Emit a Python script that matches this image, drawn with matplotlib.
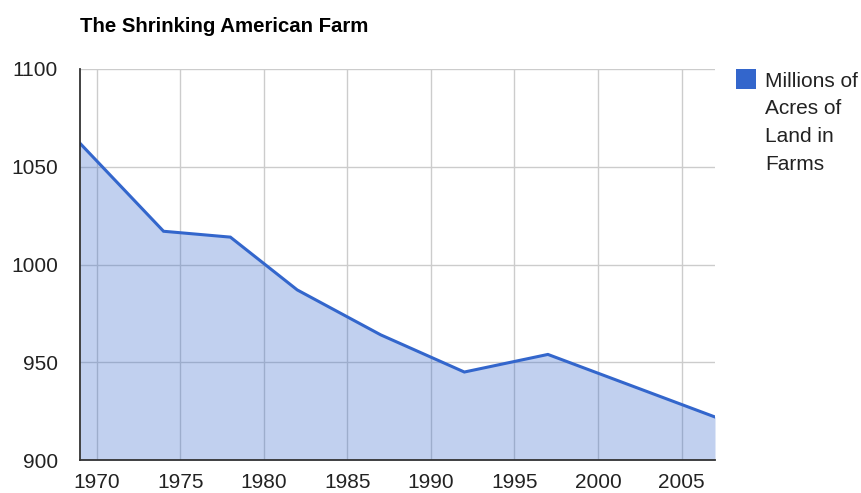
import matplotlib
matplotlib.use('Agg')
import matplotlib.pyplot as plt
import matplotlib.patches as patches

plt.rcParams['font.family'] = ['Liberation Sans', 'DejaVu Sans']

years = [1969, 1974, 1978, 1982, 1987, 1992, 1997, 2002, 2007]
acres = [1062, 1017, 1014, 987, 964, 945, 954, 938, 922]
series_name = "Millions of\nAcres of\nLand in\nFarms"
xticks = [1970, 1975, 1980, 1985, 1990, 1995, 2000, 2005]
yticks = [900, 950, 1000, 1050, 1100]

W, H = 862, 493
fig = plt.figure(figsize=(W/100, H/100), dpi=100)
ax = fig.add_axes([80/W, 33/H, 635/W, 391/H])

ax.fill_between(years, acres, 900, color='#3366cc', alpha=0.3, lw=0, zorder=2)
ax.plot(years, acres, color='#3366cc', lw=2.2, zorder=3, solid_joinstyle='miter')

ax.set_xlim(1969, 2007)
ax.set_ylim(900, 1100)
ax.set_xticks(xticks)
ax.set_yticks(yticks)
ax.grid(True, color='#cccccc', lw=1, zorder=1)
ax.set_axisbelow(True)
for s in ['top', 'right']:
    ax.spines[s].set_visible(False)
for s in ['left', 'bottom']:
    ax.spines[s].set_color('#333333')
    ax.spines[s].set_linewidth(1.3)
    ax.spines[s].set_zorder(4)
ax.tick_params(axis='both', length=0, labelsize=15, labelcolor='#222222')
ax.tick_params(axis='y', pad=16)
ax.tick_params(axis='x', pad=9)

fig.text(80/W, 1 - 27/H, "The Shrinking American Farm", fontsize=14.7,
         fontweight='bold', va='center', ha='left', color='black')

# legend, drawn by hand
fig.patches.append(patches.Rectangle((736/W, 1 - 89/H), 20/W, 20/H,
                                     transform=fig.transFigure,
                                     facecolor='#3366cc', edgecolor='none'))
for i, line in enumerate(series_name.split('\n')):
    fig.text(765/W, 1 - (87 + 27.5*i)/H, line, fontsize=15,
             va='baseline', ha='left', color='#222222')

fig.savefig('out.png', dpi=100)
